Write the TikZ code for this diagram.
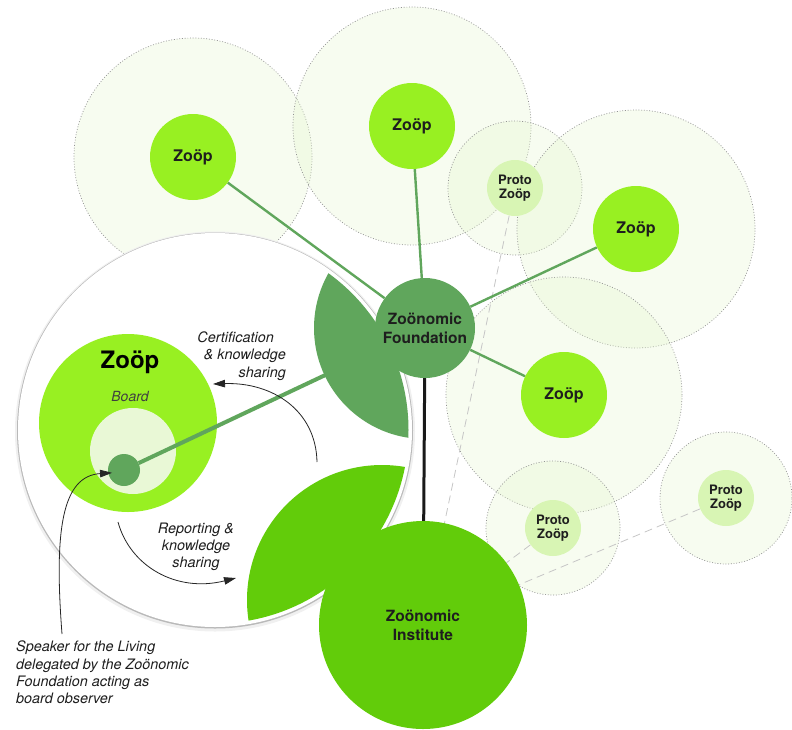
\documentclass[tikz,border=0pt]{standalone}
\usepackage{fontspec}
\setmainfont{TeX Gyre Heros}
\usetikzlibrary{arrows.meta}
\definecolor{zoopc}{RGB}{152,240,34}
\definecolor{protoc}{RGB}{216,245,180}
\definecolor{foundc}{RGB}{96,166,92}
\definecolor{instc}{RGB}{98,204,10}
\definecolor{innerc}{RGB}{233,248,214}
\definecolor{tiec}{RGB}{96,166,92}
\definecolor{dotfill}{RGB}{228,245,205}
\definecolor{txtc}{RGB}{30,30,30}
\pgfdeclarelayer{infl}
\pgfdeclarelayer{lens}
\pgfsetlayers{infl,lens,main}
\begin{document}
\begin{tikzpicture}[x=1pt,y=-1pt,
  infl/.style={fill=dotfill, fill opacity=0.3, draw=gray!85, draw opacity=1,
    dash pattern=on 0.9pt off 1.8pt, line width=0.7pt},
  zoop/.style={circle, fill=zoopc, minimum size=86pt, inner sep=0pt,
    text=txtc, font=\bfseries\fontsize{16}{18}\selectfont},
  proto/.style={circle, fill=protoc, minimum size=56pt, inner sep=0pt, align=center,
    text=txtc, font=\bfseries\fontsize{13}{13.5}\selectfont},
  hub/.style={circle, inner sep=0pt, align=center, text=txtc,
    font=\bfseries\fontsize{15.5}{18.7}\selectfont},
  tie/.style={draw=tiec, line width=2.4pt},
  ghost/.style={draw=gray!45, dash pattern=on 8pt off 5pt, line width=0.8pt},
  lbl/.style={inner sep=0pt, text=txtc, font=\itshape\fontsize{14.4}{17.3}\selectfont},
  arr/.style={draw=black!85, line width=0.8pt, -{Triangle[length=12pt,width=7.5pt]}}
]
\useasboundingbox (0,0) rectangle (792,729);

% ---------- main nodes ----------
\node[zoop] (z1) at (193,157) {Zoöp};
\node[zoop] (z2) at (412,126) {Zoöp};
\node[zoop] (z3) at (636,229) {Zoöp};
\node[zoop] (z4) at (564,395) {Zoöp};
\node[proto] (p1) at (515,188) {Proto\\Zoöp};
\node[proto] (p2) at (553,528) {Proto\\Zoöp};
\node[proto] (p3) at (726,498) {Proto\\Zoöp};
\node[hub, fill=foundc, minimum size=100pt] (found) at (425,328) {Zoönomic\\Foundation};
\node[hub, fill=instc, minimum size=208pt] (inst) at (423,625) {Zoönomic\\Institute};
\node[circle, fill=foundc, minimum size=32pt, inner sep=0pt] (board) at (124,470) {};
\draw[line width=3pt, black!90] (found) -- (inst);

% ---------- spheres of influence ----------
\begin{pgfonlayer}{infl}
  \path[infl] (z1.center) circle (119pt);
  \path[infl] (z2.center) circle (119pt);
  \path[infl] (p1.center) circle (67pt);
  \path[infl] (z3.center) circle (119pt);
  \path[infl] (z4.center) circle (118pt);
  \path[infl] (p2.center) circle (67pt);
  \path[infl] (p3.center) circle (66pt);
  \draw[ghost] (p1) -- (inst);
  \draw[ghost] (p2) -- (inst);
  \draw[ghost] (p3) -- (inst);
  \draw[tie] (found) -- (z1);
  \draw[tie] (found) -- (z2);
  \draw[tie] (found) -- (z3);
  \draw[tie] (found) -- (z4);
\end{pgfonlayer}

% ---------- magnifying lens ----------
\begin{pgfonlayer}{lens}
  \fill[gray!12] (215,431.5) circle (200pt);
  \fill[gray!55] (215,430.5) circle (198pt);
  \fill[white] (215,430) circle (197pt);
  \begin{scope}
    \clip (215,430) circle (193.5pt);
    \fill[foundc] (found.center) circle (111pt);
    \fill[instc] (382,600) circle (135pt);
  \end{scope}
  \node[circle, fill=zoopc, minimum size=178pt, inner sep=0pt] (bigzoop) at (128,423) {};
  \node[text=black, font=\bfseries\fontsize{24}{26}\selectfont] (bigzooplbl) at (130,362) {Zoöp};
  \node[text=black!75, font=\itshape\fontsize{14}{16}\selectfont] (boardlbl) at (130,396) {Board};
  \node[circle, fill=innerc, minimum size=86pt, inner sep=0pt] (inner) at (133,451) {};
  \draw[foundc, line width=4pt] (board) -- (found);
\end{pgfonlayer}

% ---------- flows and labels ----------
\coordinate (c1s) at (317,462);
\coordinate (c1e) at (213,384);
\draw[arr] (c1s) .. controls (316,410) and (272,382) .. (c1e);
\node[lbl, align=right, anchor=east] (cert) at (286,356)
  {Certification\hspace*{12pt}\\\& knowledge\\sharing};

\coordinate (r0) at (118,522);
\coordinate (r1) at (236,578);
\draw[arr] (r0) .. controls (130,566) and (176,593) .. (r1);
\node[lbl, align=center] (rep) at (196,547) {Reporting \&\\knowledge\\sharing};

\node[lbl, align=left, anchor=west] (spk) at (16,672.5)
  {Speaker for the Living\\delegated by the Zoönomic\\Foundation acting as\\board observer};
\coordinate (s0) at (62,634);
\draw[arr] (s0) .. controls (54,530) and (62,476) .. ([xshift=4pt]board.190);
\end{tikzpicture}
\end{document}
